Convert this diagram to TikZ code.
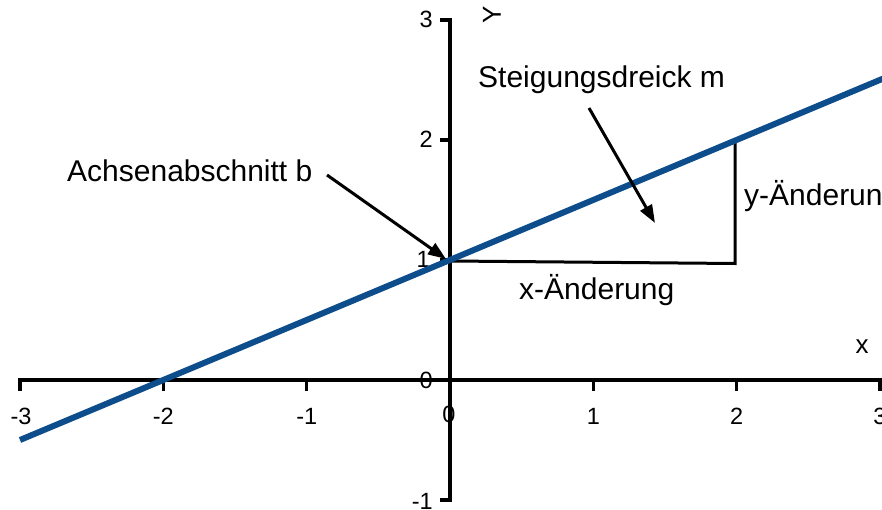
\documentclass[tikz,border=0pt]{standalone}
\usepackage{fontspec}
\setmainfont{Liberation Sans}
\usetikzlibrary{arrows.meta}
\definecolor{lineblue}{RGB}{14,77,140}
\begin{document}
\begin{tikzpicture}[x=1pt,y=-1pt,
  axis/.style={line width=3.2pt, line join=miter},
  ticklbl/.style={font=\fontsize{23.5}{28}\selectfont, inner sep=0pt},
  lbl/.style={font=\fontsize{30}{36}\selectfont, inner sep=0pt, anchor=base west},
  axislbl/.style={font=\fontsize{26}{31}\selectfont, inner sep=0pt},
  pointer/.style={line width=3pt, -{Triangle[length=18pt,width=13pt]}},
  graph/.style={line width=6pt, draw=lineblue},
  tri/.style={line width=3pt, line join=miter}]
\useasboundingbox (0,0) rectangle (882,510);
\fill[white] (0,0) rectangle (882,510);

% x axis with ticks
\draw[axis] (20,391) -- (20,380) -- (880,380) -- (880,391);
\foreach \px in {163.3,306.7,450,593.3,736.7}
  \draw[axis] (\px,380) -- (\px,391);
% y axis with ticks
\draw[axis] (440,20) -- (450,20) -- (450,500) -- (440,500);
\foreach \py in {140,260,380}
  \draw[axis] (440,\py) -- (450,\py);

% x tick labels
\node[ticklbl, anchor=base] (xm3) at (21,424) {-3};
\node[ticklbl, anchor=base] (xm2) at (163.3,424) {-2};
\node[ticklbl, anchor=base] (xm1) at (306.7,424) {-1};
\node[ticklbl, anchor=base] (x0) at (449,422) {0};
\node[ticklbl, anchor=base] (x1) at (593.3,424) {1};
\node[ticklbl, anchor=base] (x2) at (736.7,424) {2};
\node[ticklbl, anchor=base] (x3) at (880,424) {3};
% y tick labels
\node[ticklbl, anchor=base east] (y3) at (433,28) {3};
\node[ticklbl, anchor=base east] (y2) at (433,148) {2};
\node[ticklbl, anchor=base east] (y1) at (430,268) {1};
\node[ticklbl, anchor=base east] (y0) at (433,388) {0};
\node[ticklbl, anchor=base east] (ym1) at (433,509) {-1};

% axis names
\node[axislbl] (xname) at (862,347) {x};
\node[axislbl, rotate=90] (yname) at (492,15) {Y};

% slope triangle
\coordinate (p0) at (450,261);
\coordinate (pc) at (735,263.5);
\coordinate (p2) at (735,140);
\draw[tri] (p0) -- (pc) -- (p2);

% graph line y = x/2 + 1
\coordinate (gl) at (20,440);
\coordinate (gr) at (890,75.7);
\draw[graph] (gl) -- (gr);

% labels
\node[lbl] (steig) at (478,88) {Steigungsdreick m};
\node[lbl] (achs) at (67,182) {Achsenabschnitt b};
\node[lbl] (xaend) at (519,299) {x-Änderung};
\node[lbl] (yaend) at (744,206) {y-Änderung};

% pointers
\coordinate (a1s) at (327,175);
\coordinate (a1e) at (446,259);
\coordinate (a2s) at (589,108);
\coordinate (a2e) at (655,223);
\draw[pointer] (a1s) -- (a1e);
\draw[pointer] (a2s) -- (a2e);
\end{tikzpicture}
\end{document}
